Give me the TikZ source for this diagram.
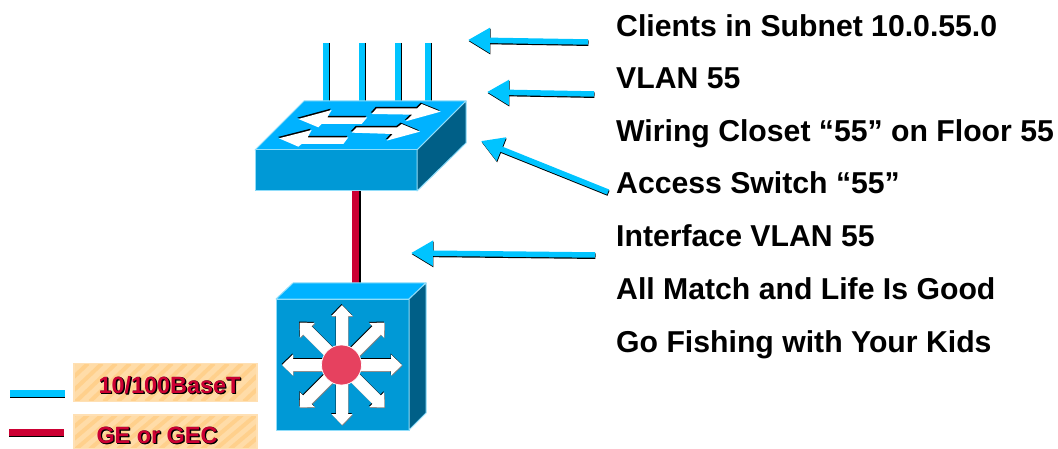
\documentclass[tikz,border=0pt]{standalone}
\usepackage{fontspec}
\setmainfont{Liberation Sans}
\usetikzlibrary{arrows.meta}
\definecolor{cyanline}{HTML}{00C4FF}
\definecolor{topface}{HTML}{00B2FF}
\definecolor{frontface}{HTML}{0099D6}
\definecolor{sideface}{HTML}{005F87}
\definecolor{edgeline}{HTML}{90DDFA}
\definecolor{redlink}{HTML}{CC0033}
\definecolor{hub}{HTML}{E6415F}
\definecolor{tagbase}{HTML}{FFDCA8}
\definecolor{tagstripe}{HTML}{FFD08C}
\definecolor{tagedge}{HTML}{FFE0B4}
\tikzset{
  lbl/.style={anchor=base west,inner sep=0pt,font=\fontsize{30.2}{32}\selectfont\bfseries,text=black},
  face/.style={draw=edgeline,line width=1pt,line join=round},
  cableline/.style={draw=cyanline,line width=5.5pt,preaction={draw=black,line width=5.5pt,transform canvas={shift={(1.3,0)}}}},
  hshadow/.style={preaction={draw=black,line width=#1,transform canvas={shift={(0,1.4)}}}},
  pointer/.style={draw=cyanline,line width=5.5pt,-{Triangle[length=22pt,width=24pt]},
     preaction={draw=black,line width=5.5pt,-{Triangle[length=22pt,width=24pt]},transform canvas={shift={(.5,1.2)}}}},
  tag/.style={fill=tagbase,minimum width=184pt,inner sep=0pt,anchor=north west},
  tagframe/.style={draw=tagedge,line width=1.2pt},
  tagtext/.style={inner sep=0pt,anchor=base,font=\fontsize{23.4}{25}\selectfont\bfseries},
}
\newcommand{\stripes}[4]{%
  \begin{scope}
    \clip (#1,#2) rectangle (#3,#4);
    \foreach \s in {0,14,...,240}{
      \draw[tagstripe,line width=4pt] (#1+\s-40,#4) -- (#1+\s,#2);
    }
  \end{scope}
  \draw[tagframe] (#1,#2) rectangle (#3,#4);}
\begin{document}
\begin{tikzpicture}[x=1pt,y=-1pt]
\useasboundingbox (0,0) rectangle (1058,449);
\fill[white] (0,0) rectangle (1058,449);

% labels
\node[lbl] (t1) at (616,37) {Clients in Subnet 10.0.55.0};
\node[lbl] (t2) at (616,89) {VLAN 55};
\node[lbl] (t3) at (616,142) {Wiring Closet “55” on Floor 55};
\node[lbl] (t4) at (616,194) {Access Switch “55”};
\node[lbl] (t5) at (616,247) {Interface VLAN 55};
\node[lbl] (t6) at (616,299) {All Match and Life Is Good};
\node[lbl] (t7) at (616,352) {Go Fishing with Your Kids};

% client cables
\foreach \i/\x in {1/326,2/362,3/398,4/428}{
  \coordinate (cu\i) at (\x,43);
  \coordinate (cd\i) at (\x,102);
  \draw[cableline] (cu\i) -- (cd\i);
}

% uplink
\coordinate (ua) at (355.5,190);
\coordinate (ub) at (355.5,284);
\draw[draw=black,line width=8pt] ([xshift=1pt]ua) -- ([xshift=1pt]ub);
\draw[draw=redlink,line width=7.5pt] (ua) -- (ub);

% access switch
\filldraw[face,fill=topface] (304,101) -- (466,101) -- (417,150) -- (255,150) -- cycle;
\filldraw[face,fill=frontface] (255,150) rectangle (417,191);
\filldraw[face,fill=sideface] (417,150) -- (466,101) -- (466,143) -- (417,191) -- cycle;
\begin{scope}[shift={(240,30)},x=0.3333pt,y=-0.3333pt]
  \foreach \dx/\dy/\c in {-3/-4/black,0/0/white}{
    \begin{scope}[shift={(\dx,\dy)}]
      \fill[\c] (175,267) -- (275,240) -- (262,262) -- (382,262) -- (365,282) -- (245,282) -- (235,292) -- cycle;
      \fill[\c] (117,325) -- (215,300) -- (203,322) -- (325,322) -- (310,342) -- (185,342) -- (175,350) -- cycle;
      \fill[\c] (395,252) -- (410,235) -- (532,235) -- (545,222) -- (602,245) -- (497,274) -- (517,254) -- cycle;
      \fill[\c] (335,308) -- (350,292) -- (472,292) -- (485,282) -- (540,305) -- (440,332) -- (458,312) -- cycle;
    \end{scope}
  }
\end{scope}

% multilayer switch
\filldraw[face,fill=topface] (293,283) -- (426,283) -- (409,299) -- (276,299) -- cycle;
\filldraw[face,fill=frontface] (276,299) rectangle (409,430);
\filldraw[face,fill=sideface] (409,299) -- (426,283) -- (426,413) -- (409,430) -- cycle;
\foreach \c/\sx/\sy in {gray/.6/.8,black/-.5/-1,white/0/0}{
  \foreach \a in {0,45,...,315}{
    \begin{scope}[shift={(342+\sx,365+\sy)},rotate=\a]
      \fill[\c] (15,-6) -- (49,-6) -- (49,-10.5) -- (60,0) -- (49,10.5) -- (49,6) -- (15,6) -- cycle;
    \end{scope}
  }
}
\node[circle,draw=white,line width=.7pt,fill=hub,minimum size=40pt,inner sep=0pt] (hubdot) at (341.5,365) {};

% pointers
\coordinate (p1a) at (588,42);  \coordinate (p1b) at (468,40);
\coordinate (p2a) at (594,94);  \coordinate (p2b) at (487,92);
\coordinate (p3a) at (608,192); \coordinate (p3b) at (481,141);
\coordinate (p4a) at (595,255); \coordinate (p4b) at (411,253);
\draw[pointer] (p1a) -- (p1b);
\draw[pointer] (p2a) -- (p2b);
\draw[pointer] (p3a) -- (p3b);
\draw[pointer] (p4a) -- (p4b);

% legend
\coordinate (l1a) at (10,393.5); \coordinate (l1b) at (65,393.5);
\coordinate (l2a) at (9,432.5);  \coordinate (l2b) at (64,432.5);
\draw[draw=cyanline,line width=6.5pt,hshadow=6.5pt] (l1a) -- (l1b);
\draw[draw=redlink,line width=7pt,hshadow=7pt] (l2a) -- (l2b);

\node[tag,minimum height=39pt] (tag1) at (73.5,363) {};
\stripes{74}{363.5}{257}{401.5}
\node[tag,minimum height=35pt] (tag2) at (73.5,414.5) {};
\stripes{74}{415}{257}{449}
\foreach \sx in {0.6,1,1.4}{
  \node[tagtext,text=black] at (169.5+\sx,393+\sx) {10/100BaseT};
  \node[tagtext,text=black] at (157+\sx,443+\sx) {GE or GEC};
}
\node[tagtext,text=redlink] (n1) at (169.5,393) {10/100BaseT};
\node[tagtext,text=redlink] (n2) at (157,443) {GE or GEC};
\end{tikzpicture}
\end{document}
